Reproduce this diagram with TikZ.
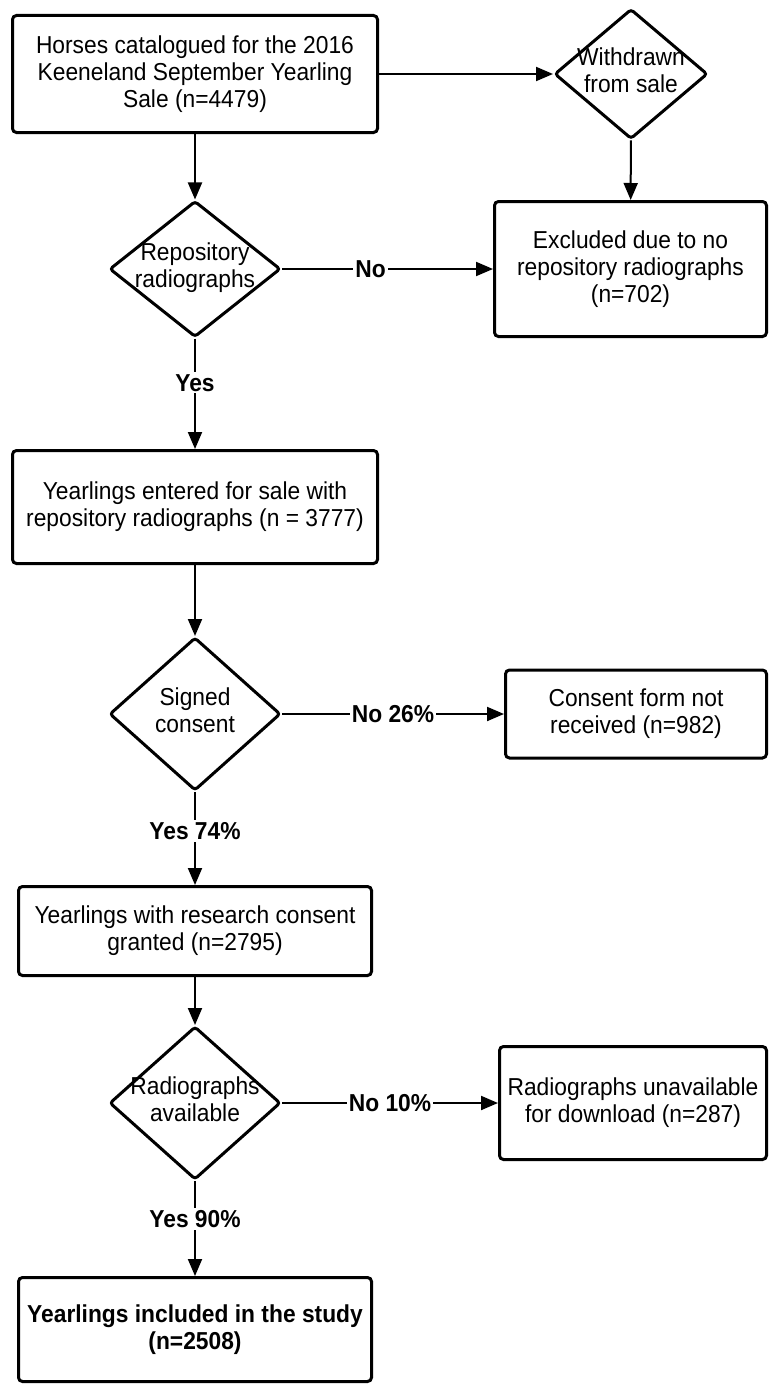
\documentclass[tikz,border=0pt]{standalone}
\usepackage{fontspec}
\setmainfont[FakeStretch=0.93]{Liberation Sans}
\usetikzlibrary{shapes.geometric,arrows.meta}

\newcommand{\dialines}[1]{\makebox[0pt]{\begin{tabular}{@{}c@{}}#1\end{tabular}}}

\begin{document}
\begin{tikzpicture}[x=1pt, y=-1pt,
    font=\fontsize{24.5}{27}\selectfont,
    box/.style={rectangle, draw=black, line width=3pt, rounded corners=4pt, align=center, inner sep=0pt},
    decision/.style={diamond, draw=black, line width=3pt, rounded corners=3pt, inner sep=0pt, aspect=1},
    arrow/.style={-{Triangle[length=17pt,width=14pt]}, line width=2pt},
    answer/.style={fill=white, font=\fontsize{24.5}{27}\selectfont\bfseries, inner sep=2pt}
]
\useasboundingbox (0,0) rectangle (770,1389);
\node[box, minimum width=365pt, minimum height=117pt] (horses) at (195,74) {Horses catalogued for the 2016\\Keeneland September Yearling\\Sale (n=4479)};
\node[decision, minimum width=153pt, minimum height=130pt] (withdrawn) at (631,74) {\dialines{Withdrawn\\from sale}};
\node[decision, minimum width=171pt, minimum height=136pt] (repo) at (195,269) {\dialines{Repository\\radiographs}};
\node[box, minimum width=272pt, minimum height=135pt] (excluded) at (630.5,269) {Excluded due to no\\repository radiographs\\(n=702)};
\node[box, minimum width=365pt, minimum height=113pt] (entered) at (195,507) {Yearlings entered for sale with\\repository radiographs (n = 3777)};
\node[decision, minimum width=171pt, minimum height=153pt] (signed) at (195,714) {\dialines{Signed\\consent}};
\node[box, minimum width=261pt, minimum height=88pt] (notrec) at (636,714) {Consent form not\\received (n=982)};
\node[box, minimum width=353pt, minimum height=89pt] (granted) at (195,931) {Yearlings with research consent\\granted (n=2795)};
\node[decision, minimum width=171pt, minimum height=153pt] (avail) at (195,1103) {\dialines{Radiographs\\available}};
\node[box, minimum width=267pt, minimum height=113pt] (unavail) at (633,1103) {Radiographs unavailable\\for download (n=287)};
\node[box, minimum width=353pt, minimum height=104pt, font=\fontsize{24.5}{27}\selectfont\bfseries] (incl) at (195,1329.5) {Yearlings included in the study\\(n=2508)};

\draw[arrow] (horses) -- (withdrawn);
\draw[arrow] (horses) -- (repo);
\draw[arrow] (withdrawn) -- (excluded);
\draw[arrow] (repo) -- node[answer, pos=0.42] {No} (excluded);
\draw[arrow] (repo) -- node[answer, pos=0.4] {Yes} (entered);
\draw[arrow] (entered) -- (signed);
\draw[arrow] (signed) -- node[answer, pos=0.5] {No 26\%} (notrec);
\draw[arrow] (signed) -- node[answer, pos=0.42] {Yes 74\%} (granted);
\draw[arrow] (granted) -- (avail);
\draw[arrow] (avail) -- node[answer, pos=0.5] {No 10\%} (unavail);
\draw[arrow] (avail) -- node[answer, pos=0.4] {Yes 90\%} (incl);
\end{tikzpicture}
\end{document}
